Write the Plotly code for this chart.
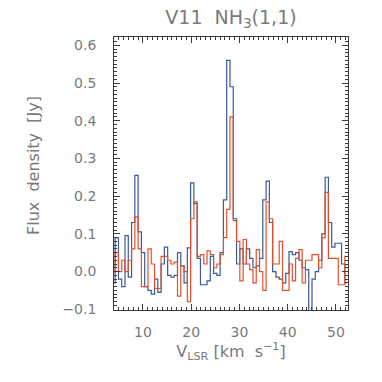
import plotly.graph_objects as go

# Channel velocities (km/s)
velocity = [3.90, 4.58, 5.26, 5.94, 6.62, 7.30, 7.98, 8.66, 9.34, 10.02,
            10.70, 11.38, 12.06, 12.74, 13.42, 14.10, 14.78, 15.46, 16.14, 16.82,
            17.50, 18.18, 18.86, 19.54, 20.22, 20.90, 21.58, 22.26, 22.94, 23.62,
            24.30, 24.98, 25.66, 26.34, 27.02, 27.70, 28.38, 29.06, 29.74, 30.42,
            31.10, 31.78, 32.46, 33.14, 33.82, 34.50, 35.18, 35.86, 36.54, 37.22,
            37.90, 38.58, 39.26, 39.94, 40.62, 41.30, 41.98, 42.66, 43.34, 44.02,
            44.70, 45.38, 46.06, 46.74, 47.42, 48.10, 48.78, 49.46, 50.14, 50.82,
            51.50, 52.18]

# Flux density (Jy) - blue spectrum
flux_blue = [-0.03, 0.09, -0.02, -0.04, 0.095, -0.015, 0.13, 0.255, 0.105, 0.05,
             -0.04, -0.05, -0.06, -0.02, -0.055, 0.02, 0.065, -0.01, -0.015, -0.01,
             0.05, 0.015, -0.03, 0.063, 0.235, 0.18, 0.035, -0.035, -0.035, -0.025,
             0.04, -0.005, -0.01, 0.05, 0.19, 0.56, 0.49, 0.14, 0.02, 0.06,
             0.02, 0.06, 0.035, 0.01, 0.015, 0.035, 0.19, 0.24, 0.13, 0.0,
             -0.015, -0.02, -0.03, -0.005, 0.053, 0.045, 0.05, 0.03, 0.01, 0.005,
             -0.15, -0.02, 0.0, 0.03, 0.1, 0.25, 0.13, 0.065, 0.075, 0.075,
             0.02, -0.03]

# Flux density (Jy) - red spectrum
flux_red = [0.0, 0.05, 0.0, 0.03, 0.0, 0.03, 0.06, 0.145, 0.06, -0.04,
            -0.04, 0.06, 0.02, -0.045, -0.045, 0.04, 0.04, 0.03, 0.02, 0.025,
            -0.065, 0.015, 0.0, -0.08, 0.14, 0.185, 0.04, 0.045, 0.02, 0.055,
            0.045, 0.01, 0.02, 0.045, 0.09, 0.165, 0.41, 0.135, 0.08, -0.025,
            0.085, 0.02, 0.005, -0.03, 0.058, 0.0, -0.05, 0.185, 0.14, 0.02,
            0.02, 0.08, -0.05, -0.05, 0.02, -0.025, 0.035, 0.058, -0.03, 0.03,
            0.03, 0.045, 0.045, 0.01, 0.09, 0.21, 0.035, 0.035, 0.035, -0.035,
            -0.035, 0.04]

BLUE = "#3a5a96"
RED = "#e5502c"
GRAY = "#7a7a7a"
AXIS = "#3a3a3a"

fig = go.Figure()
fig.add_trace(go.Scatter(x=velocity, y=flux_blue, mode="lines",
                         line=dict(shape="hvh", color=BLUE, width=1.2),
                         showlegend=False, hoverinfo="skip"))
fig.add_trace(go.Scatter(x=velocity, y=flux_red, mode="lines",
                         line=dict(shape="hvh", color=RED, width=1.2),
                         showlegend=False, hoverinfo="skip"))

font_family = "DejaVu Sans, Liberation Sans, sans-serif"

fig.update_layout(
    width=382, height=382,
    margin=dict(l=114, r=34, t=37, b=72, autoexpand=False),
    paper_bgcolor="white", plot_bgcolor="white",
    hovermode=False,
    font=dict(family=font_family, color=GRAY, size=14),
    title=dict(text="V11  NH<sub>3</sub>(1,1)", x=0.5, xref="paper",
               y=1 - 17 / 382, yref="container", yanchor="middle",
               xanchor="center", font=dict(size=19, color=GRAY),
               automargin=False),
    xaxis=dict(range=[4, 52.5], tickmode="linear", tick0=0, dtick=10,
               ticks="inside", ticklen=6, tickcolor=AXIS, tickwidth=1,
               minor=dict(dtick=1, tick0=0, ticks="inside", ticklen=3,
                          tickcolor=AXIS, showgrid=False),
               showline=True, linecolor=AXIS, linewidth=1, mirror="allticks",
               showgrid=False, zeroline=False, ticklabelstandoff=9,
               automargin=False, fixedrange=True,
               tickfont=dict(size=14, color=GRAY),
               title=dict(text="V<sub>LSR</sub> [km  s<sup>−1</sup>]",
                          font=dict(size=16, color=GRAY), standoff=4)),
    yaxis=dict(range=[-0.102, 0.622], tickmode="linear", tick0=0, dtick=0.1,
               tickformat=".1f", ticksuffix="\u00a0\u00a0\u00a0\u00a0",
               ticks="inside", ticklen=6, tickcolor=AXIS, tickwidth=1,
               minor=dict(dtick=0.01, tick0=0, ticks="inside", ticklen=3,
                          tickcolor=AXIS, showgrid=False),
               showline=True, linecolor=AXIS, linewidth=1, mirror="allticks",
               showgrid=False, zeroline=False, ticklabelstandoff=-4,
               automargin=False, fixedrange=True,
               tickfont=dict(size=14, color=GRAY)),
    annotations=[dict(text="Flux  density  [Jy]", textangle=-90,
                      xref="paper", yref="paper",
                      x=(33 - 114) / 234, y=(310 - 166) / 273,
                      xanchor="center", yanchor="middle", showarrow=False,
                      font=dict(size=16, color=GRAY))],
)

fig.write_html("out.html",
               config={"displayModeBar": False, "staticPlot": True},
               post_script="document.body.style.margin='0px';"
                           "document.body.style.padding='0px';")
